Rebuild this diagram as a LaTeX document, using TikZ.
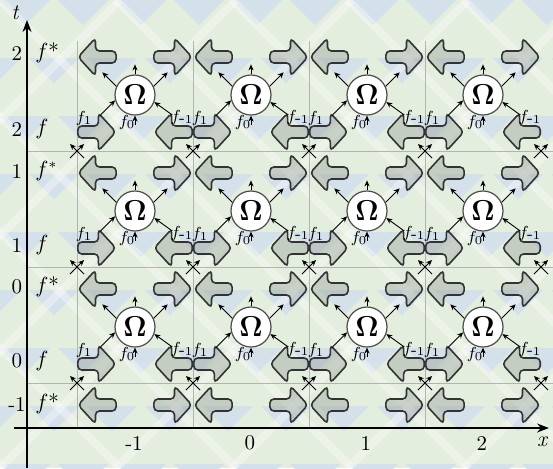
\documentclass[tikz,border=0pt]{standalone}
\usetikzlibrary{shapes.arrows, arrows.meta}

\definecolor{bgGreen}{RGB}{228,238,222}
\definecolor{bgBlue}{RGB}{212,224,234}
\definecolor{gridGray}{RGB}{178,180,176}
\definecolor{fatFill}{RGB}{158,166,160}

\begin{document}
\begin{tikzpicture}[
  x=0.5pt, y=-0.5pt,
  every node/.style={font=\fontsize{10.5}{12}\selectfont},
  fat/.style={single arrow, draw=black!80, line width=0.8pt, fill=fatFill,
              fill opacity=0.45, draw opacity=1, inner xsep=0pt, inner ysep=2.6pt,
              minimum height=19pt, single arrow head extend=6.5pt,
              single arrow tip angle=95, rounded corners=2pt},
  fatL/.style={fat, shape border rotate=180},
  omega/.style={circle, draw=black!70, fill=white, line width=0.6pt, minimum size=20pt,
                inner sep=0pt, font=\fontsize{14}{14}\selectfont},
  flow/.style={-{Stealth[length=3pt, width=2.6pt]}, line width=0.45pt},
  axis/.style={-{Stealth[length=6pt, width=4.5pt]}, line width=0.6pt},
  lab/.style={font=\fontsize{8.5}{9}\selectfont, inner sep=0pt},
  gridline/.style={gridGray, line width=0.5pt},
]
\useasboundingbox (0,0) rectangle (553,468);

% background
\begin{scope}
\clip (0,0) rectangle (553,468);
\fill[bgGreen] (0,0) rectangle (553,468);
\foreach \r in {0,...,8} {
  \foreach \c in {-1,...,10} {
    \pgfmathsetmacro\tx{\c*58+mod(\r,2)*29}
    \fill[bgBlue] (\tx,\r*58) -- ++(50,0) -- ++(-25,25) -- cycle;
  }
}
\foreach \d in {-4,...,4} {
  \draw[white, opacity=0.35, line width=4pt] (\d*116,0) -- ++(468,468);
  \draw[white, opacity=0.35, line width=4pt] (\d*116+116,468) -- ++(468,-468);
}
\end{scope}

% grid
\foreach \k in {0,...,3}
  \draw[gridline] ({77+116*\k},41) -- ({77+116*\k},428);
\foreach \l in {0,...,2}
  \draw[gridline] (27,{151+116*\l}) -- (553,{151+116*\l});

% f* arrows (outgoing)
\foreach \i in {0,...,3} {
  \foreach \j in {0,...,3} {
    \pgfmathsetmacro\cx{135+116*\i}
    \pgfmathsetmacro\cy{95+116*\j}
    \node[fatL, anchor=tip] (sl-\i-\j) at ({\cx-58},{\cy-38}) {};
    \node[fat, anchor=tip]  (sr-\i-\j) at ({\cx+58},{\cy-38}) {};
  }
}

% cells with Omega
\foreach \i in {0,...,3} {
  \foreach \j in {0,...,2} {
    \pgfmathsetmacro\cx{135+116*\i}
    \pgfmathsetmacro\cy{95+116*\j}
    \node[fat, anchor=tail]  (fl-\i-\j) at ({\cx-58},{\cy+37}) {};
    \node[fatL, anchor=tail] (fr-\i-\j) at ({\cx+58},{\cy+37}) {};
    \node[omega] (om-\i-\j) at (\cx,\cy) {$\mathbf{\Omega}$};
    % inputs
    \draw[flow] ([shift={(-15,15)}]om-\i-\j.195) -- (om-\i-\j.195);
    \draw[flow] ([shift={(18,13)}]om-\i-\j.-20) -- (om-\i-\j.-20);
    \draw[flow] ([shift={(0,9)}]om-\i-\j.south) -- (om-\i-\j.south);
    % outputs
    \draw[flow] (om-\i-\j.155) -- ++(-14,-14);
    \draw[flow] (om-\i-\j.north) -- ++(0,-10);
    \draw[flow] (om-\i-\j.25) -- ++(14,-14);
    % labels
    \node[lab] (la-\i-\j) at ({\cx-51},{\cy+23}) {$f_1$};
    \node[lab] (lb-\i-\j) at ({\cx-8},{\cy+27}) {$f_0$};
    \node[lab] (lc-\i-\j) at ({\cx+47},{\cy+22}) {$f_{\textrm{-}1}$};
  }
}

% crossings
\foreach \k in {0,...,4} {
  \foreach \l in {0,...,2} {
    \coordinate (gx-\k-\l) at ({77+116*\k},{151+116*\l});
    \draw[flow] ([shift={(7,7)}]gx-\k-\l) -- ([shift={(-7,-7)}]gx-\k-\l);
    \draw[flow] ([shift={(-7,7)}]gx-\k-\l) -- ([shift={(7,-7)}]gx-\k-\l);
  }
}

% axes
\coordinate (tb) at (27,468);
\coordinate (tt) at (27,20);
\coordinate (xl) at (14,428);
\coordinate (xr) at (549,428);
\draw[axis] (tb) -- (tt);
\draw[axis] (xl) -- (xr);
\node[font=\fontsize{11}{12}\selectfont\itshape] (tlab) at (15,13) {t};
\node[font=\fontsize{11}{12}\selectfont\itshape] (xlab) at (542,442) {x};

% row labels
\foreach \y/\n/\f in {53/2/{$f$*}, 129/2/{$f$}, 171/1/{$f^{*}$}, 245/1/{$f$},
                      287/0/{$f$*}, 361/0/{$f$}, 404/-1/{$f$*}} {
  \node (rn-\y) at (17,\y) {\n};
  \node[anchor=west, inner xsep=0pt] (rf-\y) at (35,\y) {\f};
}

% column labels
\foreach \c/\n in {0/-1, 1/0, 2/1, 3/2}
  \node (cl-\c) at ({134+116*\c},443) {\n};

\end{tikzpicture}
\end{document}
